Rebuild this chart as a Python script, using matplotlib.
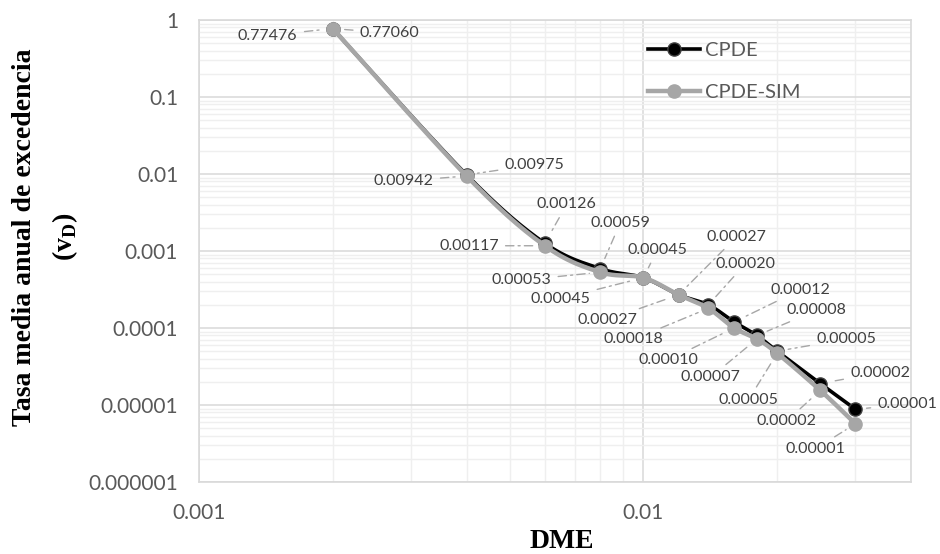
import numpy as np
import matplotlib as mpl
import matplotlib.pyplot as plt
from matplotlib.lines import Line2D
from matplotlib.ticker import LogLocator, NullFormatter

# data
dme = [0.002, 0.004, 0.006, 0.008, 0.010, 0.012, 0.014, 0.016, 0.018, 0.020, 0.025, 0.030]
cpde = [0.77060, 0.00975, 0.00126, 0.00059, 0.00045, 0.00027, 0.00020, 0.00012,
        0.000080, 0.000050, 0.000019, 0.0000088]
cpde_sim = [0.77476, 0.00942, 0.00117, 0.00053, 0.00045, 0.00027, 0.00018, 0.00010,
            0.000072, 0.000047, 0.0000155, 0.0000057]

x_ticks = [0.001, 0.01]
x_ticklabels = ['0.001', '0.01']
y_ticks = [1, 0.1, 0.01, 0.001, 0.0001, 0.00001, 0.000001]
y_ticklabels = ['1', '0.1', '0.01', '0.001', '0.0001', '0.00001', '0.000001']

# label offsets in pixels (layout only)
cpde_off = [(57, -4), (68, 10), (22, 39), (20, 46), (14, 28), (58, 58), (37, 41),
            (66, 32), (60, 25), (69, 12), (60, 11), (52, 5)]
sim_off = [(-65, -7), (-63, -5), (-76, 0), (-79, -8), (-83, -21), (-71, -25), (-75, -31),
           (-66, -32), (-46, -38), (-29, -47), (-34, -31), (-40, -25)]

GRAY = '#A6A6A6'
SANS = 'Lato'
SERIF = 'Liberation Serif'

mpl.rcParams['mathtext.fontset'] = 'custom'
mpl.rcParams['mathtext.rm'] = SERIF
mpl.rcParams['mathtext.bf'] = SERIF + ':bold'


def smooth(x, y, n=25):
    # excel-like smoothed line (bezier through points, in log space)
    pts = np.column_stack([np.log10(x), np.log10(y)])
    out = []
    for i in range(len(pts) - 1):
        p0 = pts[i - 1] if i > 0 else pts[i]
        p1, p2 = pts[i], pts[i + 1]
        p3 = pts[i + 2] if i + 2 < len(pts) else pts[i + 1]
        c1 = p1 + (p2 - p0) / 6
        c2 = p2 - (p3 - p1) / 6
        t = np.linspace(0, 1, n)[:, None]
        seg = (1 - t)**3 * p1 + 3 * (1 - t)**2 * t * c1 + 3 * (1 - t) * t**2 * c2 + t**3 * p2
        out.append(seg if i == 0 else seg[1:])
    arr = np.vstack(out)
    return 10**arr[:, 0], 10**arr[:, 1]


fig = plt.figure(figsize=(9.4, 5.54), dpi=100)
ax = fig.add_axes([199 / 940, 1 - 482 / 554, 712 / 940, 462 / 554])
ax.set_xscale('log')
ax.set_yscale('log')
ax.set_xlim(0.001, 0.04)
ax.set_ylim(1e-6, 1)

# grid
ax.xaxis.set_minor_locator(LogLocator(base=10, subs=range(2, 10), numticks=100))
ax.yaxis.set_minor_locator(LogLocator(base=10, subs=range(2, 10), numticks=100))
ax.xaxis.set_minor_formatter(NullFormatter())
ax.yaxis.set_minor_formatter(NullFormatter())
ax.grid(which='major', color='#D9D9D9', lw=1.1)
ax.grid(which='minor', color='#EFEFEF', lw=1.0)
ax.set_axisbelow(True)
for s in ax.spines.values():
    s.set_color('#D9D9D9')
    s.set_linewidth(1.2)

ax.set_xticks(x_ticks, x_ticklabels)
ax.set_yticks(y_ticks, y_ticklabels)
ax.tick_params(which='both', length=0)
ax.tick_params(which='major', pad=15, labelsize=15, labelcolor='#595959')
for lab in ax.get_xticklabels() + ax.get_yticklabels():
    lab.set_fontfamily(SANS)

# series
sx, sy = smooth(dme, cpde)
ax.plot(sx, sy, color='black', lw=2.6, zorder=3)
ax.plot(dme, cpde, 'o', ms=9.5, mfc='black', mec='#404040', mew=1, zorder=4)
sx, sy = smooth(dme, cpde_sim)
ax.plot(sx, sy, color=GRAY, lw=3.2, zorder=5)
ax.plot(dme, cpde_sim, 'o', ms=9.5, mfc=GRAY, mec=GRAY, mew=1, zorder=6)

# data labels with leader lines
lead = dict(arrowstyle='-', color='#A6A6A6', lw=1.0, linestyle=(0, (6, 3, 1.5, 3)),
            shrinkA=3, shrinkB=8)
for xv, yv, off in zip(dme, cpde, cpde_off):
    ax.annotate(f'{yv:.5f}', (xv, yv), xytext=off, textcoords='offset pixels',
                ha='center', va='center', fontsize=11.5, family=SANS, color='#404040',
                arrowprops=lead, zorder=7)
for xv, yv, off in zip(dme, cpde_sim, sim_off):
    ax.annotate(f'{yv:.5f}', (xv, yv), xytext=off, textcoords='offset pixels',
                ha='center', va='center', fontsize=11.5, family=SANS, color='#404040',
                arrowprops=lead, zorder=7)

# legend
handles = [Line2D([], [], color='black', lw=2.6, marker='o', ms=9.5, mfc='black', mec='#404040'),
           Line2D([], [], color=GRAY, lw=3.2, marker='o', ms=9.5, mfc=GRAY, mec=GRAY)]
leg = ax.legend(handles, ['CPDE', 'CPDE-SIM'], loc='upper left',
                bbox_to_anchor=(648 / 940, 1 - 42 / 554), bbox_transform=fig.transFigure,
                frameon=False, borderpad=0, borderaxespad=0, handlelength=2.6,
                handletextpad=0.25, labelspacing=1.25,
                prop={'family': SANS, 'size': 14.5})
for t in leg.get_texts():
    t.set_color('#595959')

# axis titles
fig.text(562 / 940, 1 - 542 / 554, 'DME', ha='center', va='center',
         family=SERIF, weight='bold', fontsize=20)
fig.text(25 / 940, 1 - 237 / 554, 'Tasa media anual de excedencia', rotation=90,
         ha='center', va='center', family=SERIF, weight='bold', fontsize=20)
fig.text(65 / 940, 1 - 237 / 554, r'($\mathbf{v}_{\mathbf{D}}$)', rotation=90,
         ha='center', va='center', family=SERIF, weight='bold', fontsize=20)

fig.savefig('out.png', dpi=100)
